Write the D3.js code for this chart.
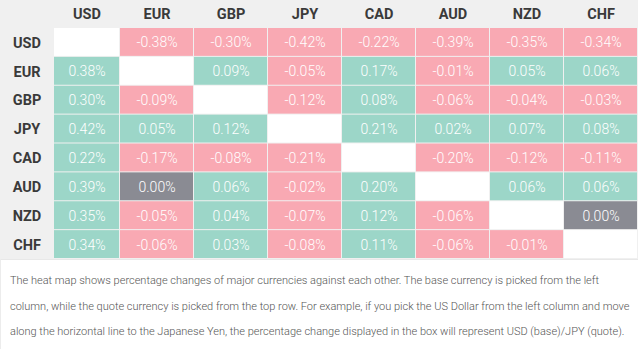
<!DOCTYPE html>
<html>
<head>
<meta charset="utf-8">
<script src="https://cdn.jsdelivr.net/npm/d3@7"></script>
<style>
  html, body { margin: 0; padding: 0; background: #fff; }
  svg { display: block; }
</style>
</head>
<body>
<svg id="chart" width="638" height="349"></svg>
<script>
const currencies = ["USD", "EUR", "GBP", "JPY", "CAD", "AUD", "NZD", "CHF"];
const usdRow = [null, -0.38, -0.30, -0.42, -0.22, -0.39, -0.35, -0.34];
const eurRow = [0.38, null, 0.09, -0.05, 0.17, -0.01, 0.05, 0.06];
const gbpRow = [0.30, -0.09, null, -0.12, 0.08, -0.06, -0.04, -0.03];
const jpyRow = [0.42, 0.05, 0.12, null, 0.21, 0.02, 0.07, 0.08];
const cadRow = [0.22, -0.17, -0.08, -0.21, null, -0.20, -0.12, -0.11];
const audRow = [0.39, 0.00, 0.06, -0.02, 0.20, null, 0.06, 0.06];
const nzdRow = [0.35, -0.05, 0.04, -0.07, 0.12, -0.06, null, 0.00];
const chfRow = [0.34, -0.06, 0.03, -0.08, 0.11, -0.06, -0.01, null];
const rows = [usdRow, eurRow, gbpRow, jpyRow, cadRow, audRow, nzdRow, chfRow];
const noteLines = [
  "The heat map shows percentage changes of major currencies against each other. The base currency is picked from the left",
  "column, while the quote currency is picked from the top row. For example, if you pick the US Dollar from the left column and move",
  "along the horizontal line to the Japanese Yen, the percentage change displayed in the box will represent USD (base)/JPY (quote)."
];

const svg = d3.select("#chart");
const W = 638, labelW = 54, headH = 28, tableBottom = 259;

const x = d3.scaleBand().domain(currencies).range([46, W]);
const y = d3.scaleBand().domain(currencies).range([headH, tableBottom]);

const color = v => v > 0 ? "#9cd6c8" : (v < 0 ? "#f9a9b3" : "#8a8b93");
const fmt = d3.formatLocale({ decimal: ".", thousands: ",", grouping: [3], currency: ["$", ""], minus: "-" }).format(".2f");

// backgrounds
svg.append("rect").attr("x", 0).attr("y", 0).attr("width", W).attr("height", tableBottom).attr("fill", "#f0f0f0");
svg.append("rect").attr("x", 0).attr("y", tableBottom).attr("width", W).attr("height", 349 - tableBottom).attr("fill", "#ffffff");
svg.append("line").attr("x1", 0).attr("x2", W).attr("y1", tableBottom + 0.5).attr("y2", tableBottom + 0.5).attr("stroke", "#e8e8e8");
svg.append("line").attr("x1", 0.5).attr("x2", 0.5).attr("y1", tableBottom).attr("y2", 349).attr("stroke", "#ececec");

const cells = [];
rows.forEach((r, i) => r.forEach((v, j) => cells.push({ row: currencies[i], col: currencies[j], v })));

const cx0 = c => Math.max(x(c), labelW);
const cw = c => x(c) + x.bandwidth() - cx0(c);

const g = svg.append("g");
g.selectAll("rect.cell").data(cells).join("rect")
  .attr("class", "cell")
  .attr("x", d => cx0(d.col))
  .attr("y", d => y(d.row))
  .attr("width", d => cw(d.col) - 1)
  .attr("height", y.bandwidth() - 1)
  .attr("fill", d => d.v === null ? "#ffffff" : color(d.v));

g.selectAll("text.val").data(cells.filter(d => d.v !== null)).join("text")
  .attr("class", "val")
  .attr("x", d => cx0(d.col) + cw(d.col) / 2)
  .attr("y", d => y(d.row) + y.bandwidth() / 2)
  .attr("dy", "0.36em")
  .attr("text-anchor", "middle")
  .attr("font-family", "Roboto, sans-serif")
  .attr("font-weight", 300)
  .attr("font-size", 14)
  .attr("fill", "#ffffff")
  .text(d => fmt(d.v) + "%");

// column headers
svg.selectAll("text.colh").data(currencies).join("text")
  .attr("class", "colh")
  .attr("x", c => cx0(c) + cw(c) / 2)
  .attr("y", headH / 2)
  .attr("dy", "0.36em")
  .attr("text-anchor", "middle")
  .attr("font-family", "Roboto, sans-serif")
  .attr("font-weight", 700)
  .attr("font-size", 14.5)
  .attr("fill", "#3a3a3a")
  .text(c => c);

// row headers
svg.selectAll("text.rowh").data(currencies).join("text")
  .attr("class", "rowh")
  .attr("x", 27)
  .attr("y", c => y(c) + y.bandwidth() / 2)
  .attr("dy", "0.36em")
  .attr("text-anchor", "middle")
  .attr("font-family", "Roboto, sans-serif")
  .attr("font-weight", 700)
  .attr("font-size", 14.5)
  .attr("fill", "#3a3a3a")
  .text(c => c);

// note text
svg.selectAll("text.note").data(noteLines).join("text")
  .attr("class", "note")
  .attr("x", 10)
  .attr("y", (d, i) => 284 + i * 25.5)
  .attr("font-family", "Roboto, sans-serif")
  .attr("font-weight", 300)
  .attr("font-size", 11)
  .attr("fill", "#555555")
  .text(d => d);
</script>
</body>
</html>
